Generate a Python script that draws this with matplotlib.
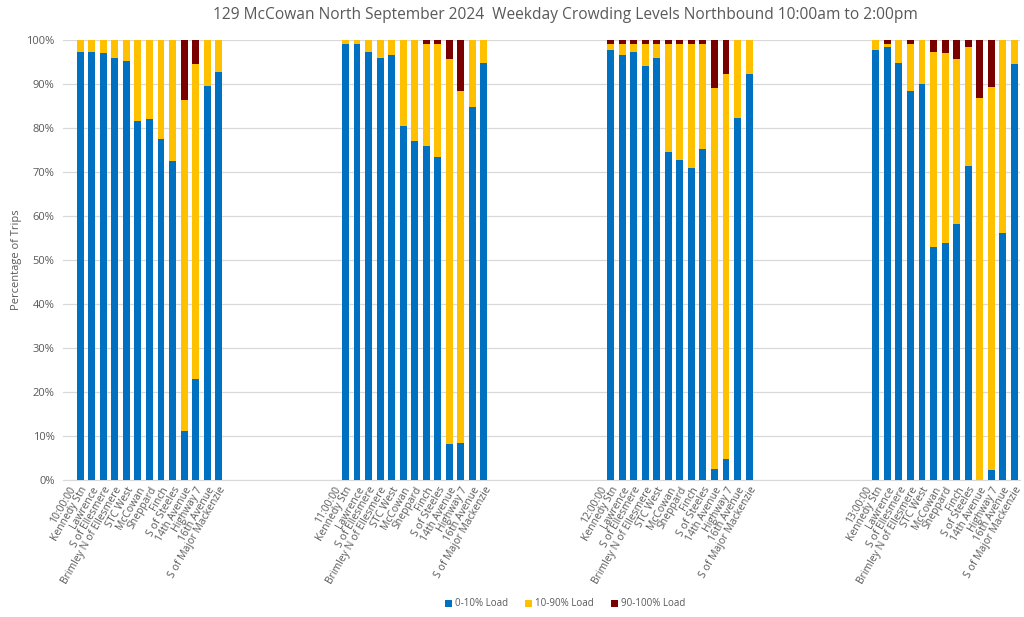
import numpy as np
import matplotlib.pyplot as plt
from matplotlib.ticker import PercentFormatter

plt.rcParams['font.family'] = ['Open Sans', 'DejaVu Sans']

times = ["10:00:00", "11:00:00", "12:00:00", "13:00:00"]
stops = ["Kennedy Stn", "Lawrence", "S of Ellesmere", "Brimley N of Ellesmere", "STC West",
         "McCowan", "Sheppard", "Finch", "S of Steeles", "14th Avenue", "Highway 7",
         "16th Avenue", "S of Major Mackenzie"]

# 0-10% load share per stop, one list per hour
low_10 = [97.3, 97.2, 97.0, 95.9, 95.2, 81.5, 82.0, 77.6, 72.5, 11.2, 23.0, 89.6, 92.8]
low_11 = [99.2, 99.1, 97.3, 95.8, 96.6, 80.4, 77.1, 76.0, 73.4, 8.2, 8.4, 84.8, 94.8]
low_12 = [97.8, 96.6, 97.2, 94.2, 95.9, 74.5, 72.7, 70.8, 75.3, 2.4, 4.8, 82.3, 92.3]
low_13 = [97.8, 98.5, 94.8, 88.4, 90.1, 53.0, 53.8, 58.1, 71.3, 0.0, 2.3, 56.2, 94.6]

# 90-100% load share per stop
high_10 = [0, 0, 0, 0, 0, 0, 0, 0, 0, 13.7, 5.5, 0, 0]
high_11 = [0, 0, 0, 0, 0, 0, 0, 1.0, 1.0, 4.3, 11.7, 0, 0]
high_12 = [1.0, 1.0, 1.0, 1.0, 1.0, 1.0, 1.0, 1.0, 1.0, 10.8, 7.8, 0, 0]
high_13 = [0, 1.0, 0, 1.0, 0, 2.8, 3.0, 4.4, 1.7, 13.1, 10.6, 0, 0]

lows = [low_10, low_11, low_12, low_13]
highs = [high_10, high_11, high_12, high_13]

blue = "#0070C0"
yellow = "#FFC000"
red = "#7A0000"

# build category axis: time label, stops, then blank slots between hours
gap = 9
labels, low_vals, mid_vals, high_vals = [], [], [], []
for i, t in enumerate(times):
    labels.append(t)
    low_vals.append(np.nan); mid_vals.append(np.nan); high_vals.append(np.nan)
    for s, lo, hi in zip(stops, lows[i], highs[i]):
        labels.append(s)
        low_vals.append(lo)
        high_vals.append(hi)
        mid_vals.append(100 - lo - hi)
    if i < len(times) - 1:
        for _ in range(gap):
            labels.append("")
            low_vals.append(np.nan); mid_vals.append(np.nan); high_vals.append(np.nan)

low_vals = np.array(low_vals) / 100
mid_vals = np.array(mid_vals) / 100
high_vals = np.array(high_vals) / 100
x = np.arange(len(labels))

fig = plt.figure(figsize=(10.24, 6.17), dpi=100)
ax = fig.add_axes([63 / 1024, 1 - 480 / 617, (1020 - 63) / 1024, 440 / 617])

w = 0.6
ax.bar(x, low_vals, w, color=blue, label="0-10% Load", zorder=3)
ax.bar(x, mid_vals, w, bottom=low_vals, color=yellow, label="10-90% Load", zorder=3)
ax.bar(x, high_vals, w, bottom=low_vals + mid_vals, color=red, label="90-100% Load", zorder=3)

ax.set_xlim(-0.5, len(labels) - 0.5)
ax.set_ylim(0, 1)
ax.set_yticks(np.arange(0, 1.01, 0.1))
ax.yaxis.set_major_formatter(PercentFormatter(1.0, decimals=0))
ax.grid(axis='y', color="#D9D9D9", linewidth=0.9, zorder=0)
for sp in ["top", "right", "left"]:
    ax.spines[sp].set_visible(False)
ax.spines["bottom"].set_color("#D9D9D9")
ax.tick_params(axis='both', length=0, colors="#595959", labelsize=8)
ax.tick_params(axis='y', pad=6)

ax.set_xticks(x)
ax.set_xticklabels(labels, rotation=60, ha='right', rotation_mode='anchor', fontsize=7.5)

ax.set_ylabel("Percentage of Trips", fontsize=8, color="#595959", labelpad=3)

fig.text(565 / 1024, 1 - 15 / 617, "129 McCowan North September 2024  Weekday Crowding Levels Northbound 10:00am to 2:00pm",
         ha='center', va='center', fontsize=11.2, color="#595959")

fig.legend(loc='center', bbox_to_anchor=(565 / 1024, 1 - 604 / 617), ncol=3, frameon=False,
           fontsize=7, handlelength=0.7, handleheight=0.7, handletextpad=0.3, columnspacing=1.8,
           labelcolor="#595959")

plt.savefig("out.png", dpi=100)
